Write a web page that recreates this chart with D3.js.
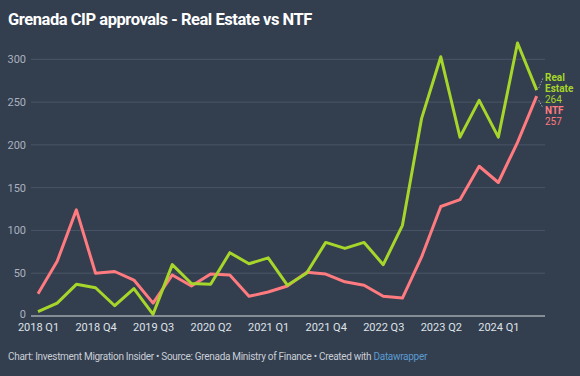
<!DOCTYPE html>
<html>
<head>
<meta charset="utf-8">
<script src="https://cdn.jsdelivr.net/npm/d3@7"></script>
<style>
  body { margin: 0; background: #333e4f; font-family: Roboto, "Noto Sans", sans-serif; }
  #chart { width: 580px; height: 376px; }
</style>
</head>
<body>
<div id="chart"></div>
<script>
// Quarters 2018 Q1 .. 2024 Q3
const quarters = [];
for (let y = 2018; y <= 2024; y++) {
  for (let q = 1; q <= 4; q++) {
    if (y === 2024 && q > 3) break;
    quarters.push(`${y} Q${q}`);
  }
}
const realEstate = [5, 15, 37, 33, 12, 32, 2, 60, 38, 37, 74, 61, 68, 36, 50, 86, 79, 86, 60, 106, 231, 303, 209, 252, 209, 319, 264];
const ntf = [26, 64, 124, 50, 52, 42, 15, 48, 35, 49, 48, 23, 28, 35, 51, 49, 40, 36, 23, 21, 69, 128, 136, 175, 156, 203, 257];
const xTickLabels = ['2018 Q1', '2018 Q4', '2019 Q3', '2020 Q2', '2021 Q1', '2021 Q4', '2022 Q3', '2023 Q2', '2024 Q1'];
const yTicks = [0, 50, 100, 150, 200, 250, 300];

const W = 580, H = 376;
const svg = d3.select('#chart').append('svg').attr('width', W).attr('height', H);

// Titre
svg.append('text')
  .attr('x', 8).attr('y', 25)
  .attr('fill', '#ffffff')
  .style('font-size', '16.5px').style('font-weight', 700)
  .style('letter-spacing', '-0.45px')
  .text('Grenada CIP approvals - Real Estate vs NTF');

const x = d3.scalePoint().domain(quarters).range([38, 536.7]);
const y = d3.scaleLinear().domain([0, 300]).range([316, 59.3]);

// Grille
const grid = svg.append('g');
grid.selectAll('line').data(yTicks.filter(d => d > 0)).enter().append('line')
  .attr('x1', 31).attr('x2', 545)
  .attr('y1', d => y(d)).attr('y2', d => y(d))
  .attr('stroke', '#4a5567').attr('stroke-width', 1);

const yAxis = d3.axisLeft(y).tickValues(yTicks).tickSize(0).tickPadding(0);
svg.append('g')
  .attr('transform', 'translate(26,0)')
  .call(yAxis)
  .call(g => g.select('.domain').remove())
  .selectAll('text')
  .attr('dy', d => d === 0 ? '0.1em' : '0.32em')
  .attr('fill', '#aab2bf')
  .style('font-size', '11px')
  .style('font-family', 'Roboto, sans-serif');

// Ligne de base
svg.append('line')
  .attr('x1', 31).attr('x2', 545)
  .attr('y1', y(0)).attr('y2', y(0))
  .attr('stroke', '#d6d9de').attr('stroke-width', 1.2);

const xAxis = d3.axisBottom(x).tickValues(xTickLabels).tickSize(0).tickPadding(0);
svg.append('g')
  .attr('transform', `translate(0,${y(0) + 7})`)
  .call(xAxis)
  .call(g => g.select('.domain').remove())
  .selectAll('text')
  .attr('dy', '0.71em')
  .attr('fill', '#dfe3e8')
  .style('font-size', '11px')
  .style('font-family', 'Roboto, sans-serif');

const line = d3.line()
  .x((d, i) => x(quarters[i]))
  .y(d => y(d));

const green = '#a7d62b';
const red = '#ff7b7f';

svg.append('path').datum(ntf)
  .attr('d', line).attr('fill', 'none')
  .attr('stroke', red).attr('stroke-width', 3).attr('stroke-linejoin', 'round');

svg.append('path').datum(realEstate)
  .attr('d', line).attr('fill', 'none')
  .attr('stroke', green).attr('stroke-width', 3).attr('stroke-linejoin', 'round');

// Étiquettes de fin de ligne
const last = quarters.length - 1;
const lx = x(quarters[last]);
const labX = 545;

svg.append('path')
  .attr('d', `M${lx + 2},${y(realEstate[last]) - 2} L${labX - 2},${78}`)
  .attr('stroke', '#a0a8b4').attr('stroke-width', 1).attr('stroke-dasharray', '1.5,1.5').attr('fill', 'none');
svg.append('path')
  .attr('d', `M${lx + 2},${y(ntf[last]) + 4} L${labX - 2},${108}`)
  .attr('stroke', '#a0a8b4').attr('stroke-width', 1).attr('stroke-dasharray', '1.5,1.5').attr('fill', 'none');

const reLab = svg.append('text').attr('x', labX).attr('y', 81)
  .attr('fill', green).style('font-size', '10px').style('font-weight', 700);
reLab.append('tspan').attr('x', labX).attr('dy', 0).text('Real');
reLab.append('tspan').attr('x', labX).attr('dy', 11.2).text('Estate');
reLab.append('tspan').attr('x', labX).attr('dy', 11.2).style('font-weight', 400).text(realEstate[last]);

const ntfLab = svg.append('text').attr('x', labX).attr('y', 114)
  .attr('fill', red).style('font-size', '10px').style('font-weight', 700);
ntfLab.append('tspan').attr('x', labX).attr('dy', 0).text('NTF');
ntfLab.append('tspan').attr('x', labX).attr('dy', 11.2).style('font-weight', 400).text(ntf[last]);

// Pied
const foot = svg.append('text').attr('x', 8).attr('y', 360)
  .attr('fill', '#c9ced6').style('font-size', '10px').style('letter-spacing', '-0.3px');
foot.append('tspan').text('Chart: Investment Migration Insider • Source: Grenada Ministry of Finance • Created with ');
foot.append('tspan').attr('fill', '#5b9bd1').text('Datawrapper');
</script>
</body>
</html>
